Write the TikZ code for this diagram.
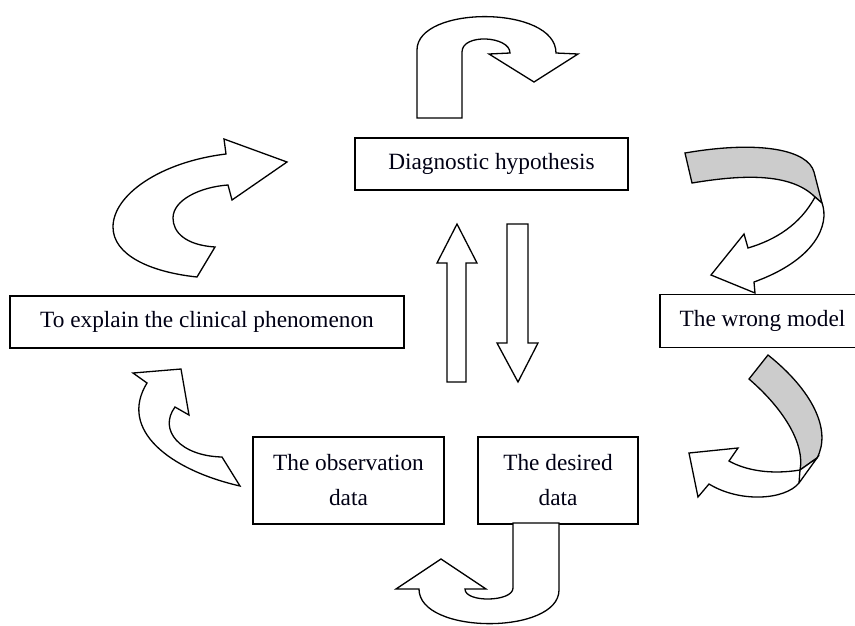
\documentclass[tikz,border=0pt]{standalone}
\usepackage{fontspec}
\setmainfont{Liberation Serif}
\begin{document}
\begin{tikzpicture}[x=1pt,y=-1pt,
  box/.style={draw=black,line width=1.7pt,fill=white,minimum height=52pt,inner sep=0pt,
    font=\fontsize{23.3}{35}\selectfont,align=center,text=black!92!blue},
  blockarrow/.style={draw=black,line width=1.3pt,fill=white,line join=miter},
  band/.style={draw=black,line width=1.3pt,fill=black!20,line join=miter}]
\useasboundingbox (0,0) rectangle (855,625);
\clip (0,0) rectangle (855,625);
% boxes
\node[box,minimum width=273pt] (hyp) at (491.5,164) {Diagnostic hypothesis};
\node[box,minimum width=394pt] (expl) at (207,322) {To explain the clinical phenomenon};
\node[box,minimum width=205pt,minimum height=53pt] (wrong) at (762.5,321) {The wrong model};
\node[box,minimum width=191pt,minimum height=87pt] (obs) at (348.5,480.5) {The observation\\data};
\node[box,minimum width=160pt,minimum height=87pt] (des) at (558,480.5) {The desired\\data};
% top U-turn arrow
\draw[blockarrow] (417,118) -- (417,50) .. controls (417,5) and (556,5) .. (556,53)
  -- (578,54) -- (534,82) -- (489,54) -- (510,53)
  .. controls (510,36) and (462,33) .. (462,52) -- (462,118) -- cycle;
% left curved arrow (to hypothesis)
\draw[blockarrow] (197,277) .. controls (150,272) and (113,255) .. (113,227)
  .. controls (113,195) and (160,162) .. (226,154) -- (224,139) -- (287,162)
  -- (232,200) -- (228,185) .. controls (200,187) and (173,200) .. (173,218)
  .. controls (173,232) and (185,245) .. (215,247) -- cycle;
% up and down arrows
\draw[blockarrow] (447,382) -- (447,263) -- (437,263) -- (457,224) -- (477,263)
  -- (466,263) -- (466,382) -- cycle;
\draw[blockarrow] (507,224) -- (528,224) -- (528,343) -- (538,343) -- (518,382)
  -- (497,343) -- (507,343) -- cycle;
% right top twisted arrow
\draw[band] (685,153) .. controls (760,140) and (808,150) .. (814,172) -- (822,203)
  -- (815,197) .. controls (790,172) and (740,175) .. (692,183) -- cycle;
\draw[blockarrow] (815,197) .. controls (800,225) and (775,240) .. (748,248)
  -- (744,234) -- (711,275) -- (755,293) -- (754,282)
  .. controls (815,260) and (830,225) .. (822,203) -- cycle;
% right bottom twisted arrow
\draw[band] (749,379) .. controls (785,410) and (805,445) .. (800,470) -- (817,458)
  .. controls (832,430) and (812,390) .. (768,355) -- cycle;
\draw[blockarrow] (800,470) .. controls (770,475) and (745,470) .. (729,461)
  -- (738,448) -- (689,453) -- (698,497) -- (709,484)
  .. controls (740,503) and (785,500) .. (799,483) -- (817,458) -- cycle;
\draw[line width=1.3pt] (800,470) -- (799,483);
% bottom U-turn arrow
\draw[blockarrow] (513,523) -- (513,588) .. controls (513,602) and (465,603) .. (465,589)
  -- (486,589) -- (441,559) -- (396,589) -- (419,589)
  .. controls (419,635) and (559,635) .. (559,590) -- (559,523) -- cycle;
% bottom left arrow
\draw[blockarrow] (240,486) .. controls (170,470) and (118,430) .. (147,383)
  -- (133,373) -- (181,369) -- (189,415) -- (175,407)
  .. controls (158,430) and (180,456) .. (222,457) -- cycle;
\end{tikzpicture}
\end{document}
